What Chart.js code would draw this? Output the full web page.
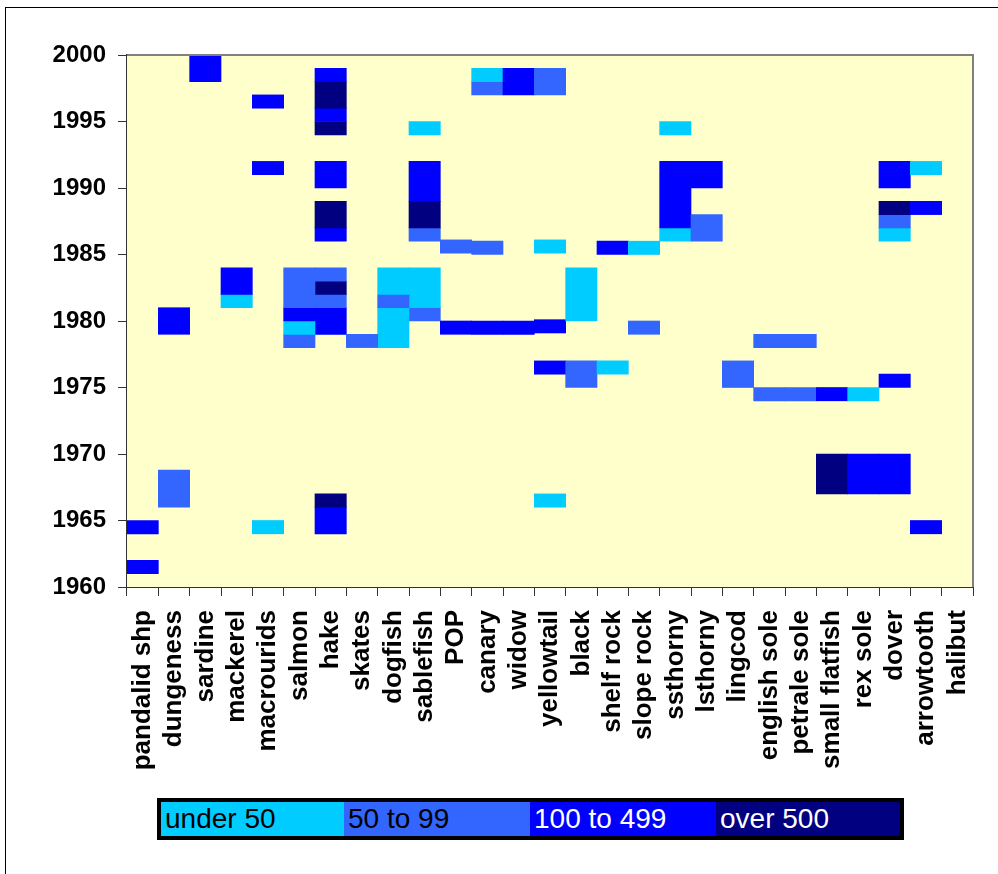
<!DOCTYPE html>
<html>
<head>
<meta charset="utf-8">
<script src="https://cdn.jsdelivr.net/npm/chart.js@4"></script>
<style>
  html, body { margin: 0; padding: 0; background: #fff; width: 998px; height: 874px; overflow: hidden; }
  #frame { position: absolute; left: 5px; top: 7px; width: 1100px; height: 1000px; border: 1px solid #000; box-sizing: border-box; }
  #wrap { position: absolute; left: 0; top: 0; width: 998px; height: 874px; }
  #legend { position: absolute; left: 157px; top: 798px; width: 747px; height: 42px; border: 4px solid #000; box-sizing: border-box; display: flex; background: #000; }
  #legend div { height: 34px; line-height: 33px; font-family: "Liberation Sans", Arial, sans-serif; font-size: 28px; padding-left: 4px; box-sizing: border-box; white-space: nowrap; overflow: hidden; }
</style>
</head>
<body>
<div id="frame"></div>
<div id="wrap"><canvas id="c" width="998" height="874"></canvas></div>
<div id="legend"></div>
<script>
// ---- data ----
const species = ["pandalid shp","dungeness","sardine","mackerel","macrourids","salmon","hake","skates","dogfish","sablefish","POP","canary","widow","yellowtail","black","shelf rock","slope rock","ssthorny","lsthorny","lingcod","english sole","petrale sole","small flatfish","rex sole","dover","arrowtooth","halibut"];
const classLabels = ["under 50","50 to 99","100 to 499","over 500"];
const classColors = ["#00CCFF","#3366FF","#0000FF","#000080"];
const classTextColors = ["#000000","#000000","#FFFFFF","#FFFFFF"];
const yearTicks = [1960,1965,1970,1975,1980,1985,1990,1995,2000];

// each cell: species, from-year, to-year, catch class (index into classLabels)
const cellSpecies = [
  "pandalid shp","pandalid shp",
  "dungeness","dungeness",
  "sardine",
  "mackerel","mackerel",
  "macrourids","macrourids","macrourids",
  "salmon","salmon","salmon","salmon",
  "hake","hake","hake","hake","hake","hake","hake","hake","hake","hake","hake","hake","hake",
  "skates",
  "dogfish","dogfish","dogfish",
  "sablefish","sablefish","sablefish","sablefish","sablefish","sablefish",
  "POP","POP",
  "canary","canary","canary","canary",
  "widow","widow",
  "yellowtail","yellowtail","yellowtail","yellowtail","yellowtail",
  "black","black",
  "shelf rock","shelf rock",
  "slope rock","slope rock",
  "ssthorny","ssthorny","ssthorny",
  "lsthorny","lsthorny",
  "lingcod",
  "english sole","english sole",
  "petrale sole","petrale sole",
  "small flatfish","small flatfish",
  "rex sole","rex sole",
  "dover","dover","dover","dover","dover","dover",
  "arrowtooth","arrowtooth","arrowtooth"
];
const cellFrom = [
  1964,1961,
  1979,1966,
  1998,
  1982,1981,
  1996,1991,1964,
  1981,1980,1979,1978,
  1998,1996,1995,1994,1990,1987,1986,1983,1982,1981,1979,1966,1964,
  1978,
  1982,1981,1978,
  1994,1989,1987,1986,1981,1980,
  1985.1,1979,
  1998,1997,1985,1979,
  1997,1979,
  1997,1985.1,1979.1,1976,1966,
  1980,1975,
  1985,1976,
  1985,1979,
  1994,1987,1986,
  1990,1986,
  1975,
  1978,1974,
  1978,1974,
  1974,1967,
  1974,1967,
  1990,1988,1987,1986,1975,1967,
  1991,1988,1964
];
const cellTo = [
  1965,1962,
  1981,1968.8,
  2000,
  1984,1982,
  1997,1992,1965,
  1984,1981,1980,1979,
  1999,1998,1996,1995,1992,1989,1987,1984,1983,1982,1981,1967,1966,
  1979,
  1984,1982,1981,
  1995,1992,1989,1987,1984,1981,
  1986.1,1980,
  1999,1998,1986,1980,
  1999,1980,
  1999,1986.1,1980.1,1977,1967,
  1984,1977,
  1986,1977,
  1986,1980,
  1995,1992,1987,
  1992,1988,
  1977,
  1979,1975,
  1979,1975,
  1975,1970,
  1975,1970,
  1992,1989,1988,1987,1976,1970,
  1992,1989,1965
];
const cellClass = [
  2,2,
  2,1,
  2,
  2,0,
  2,2,0,
  1,2,0,1,
  2,3,2,3,2,3,2,1,3,1,2,3,2,
  1,
  0,1,0,
  0,2,3,1,0,1,
  1,2,
  0,1,1,2,
  2,2,
  1,0,2,2,0,
  0,1,
  2,0,
  0,1,
  0,2,0,
  2,1,
  1,
  1,1,
  1,1,
  2,3,
  0,2,
  2,3,1,0,2,2,
  0,2,2
];

// ---- build datasets: k-th cell of every species goes into dataset k ----
const perSpecies = species.map(() => []);
cellSpecies.forEach((s, i) => {
  perSpecies[species.indexOf(s)].push({ v: [cellFrom[i], cellTo[i]], c: cellClass[i] });
});
const maxLayers = Math.max(...perSpecies.map(a => a.length));
const datasets = [];
for (let k = 0; k < maxLayers; k++) {
  datasets.push({
    data: perSpecies.map(a => a[k] ? a[k].v : null),
    backgroundColor: perSpecies.map(a => a[k] ? classColors[a[k].c] : 'rgba(0,0,0,0)'),
    borderWidth: 0,
    borderSkipped: false,
    categoryPercentage: 1.0,
    barPercentage: 1.0
  });
}

// legend (HTML)
const lg = document.getElementById('legend');
const widths = [183, 186, 186, 184];
classLabels.forEach((t, i) => {
  const d = document.createElement('div');
  d.textContent = t;
  d.style.background = classColors[i];
  d.style.color = classTextColors[i];
  d.style.width = widths[i] + 'px';
  lg.appendChild(d);
});

const FONT = '"Liberation Sans", Arial, sans-serif';

const plotDeco = {
  id: 'plotDeco',
  beforeDatasetsDraw(chart) {
    const { ctx, chartArea: a } = chart;
    ctx.save();
    ctx.fillStyle = '#FFFFCC';
    ctx.fillRect(a.left, a.top, a.right - a.left, a.bottom - a.top);
    ctx.restore();
  },
  afterDraw(chart) {
    const { ctx, chartArea: a } = chart;
    ctx.save();
    ctx.strokeStyle = '#808080';
    ctx.lineWidth = 2;
    ctx.beginPath();
    ctx.moveTo(a.left, a.top);
    ctx.lineTo(a.right, a.top);
    ctx.lineTo(a.right, a.bottom);
    ctx.stroke();
    ctx.restore();
  }
};

new Chart(document.getElementById('c'), {
  type: 'bar',
  data: { labels: species, datasets },
  options: {
    responsive: false,
    animation: false,
    devicePixelRatio: 1,
    layout: { padding: { left: 0, top: 55, right: 25, bottom: 0 } },
    plugins: { legend: { display: false }, tooltip: { enabled: false } },
    scales: {
      x: {
        stacked: true,
        offset: true,
        grid: { display: true, drawOnChartArea: false, drawTicks: true, tickLength: 9, color: '#333', offset: true },
        border: { display: true, color: '#333', width: 2 },
        ticks: {
          autoSkip: false, maxRotation: 90, minRotation: 90, padding: 14,
          color: '#000', font: { family: FONT, size: 26, weight: 'bold' }
        },
        afterFit(scale) { scale.height = 287; scale.paddingRight = 0; scale.paddingLeft = 0; }
      },
      y: {
        stacked: false,
        min: 1960, max: 2000,
        afterBuildTicks(scale) { scale.ticks = yearTicks.map(v => ({ value: v })); },
        grid: { display: true, drawOnChartArea: false, drawTicks: true, tickLength: 9, color: '#333' },
        border: { display: true, color: '#333', width: 2 },
        ticks: {
          padding: 12, color: '#000',
          font: { family: FONT, size: 24, weight: 'bold' },
          callback: v => String(v)
        },
        afterFit(scale) { scale.width = 127; }
      }
    }
  },
  plugins: [plotDeco]
});
</script>
</body>
</html>
